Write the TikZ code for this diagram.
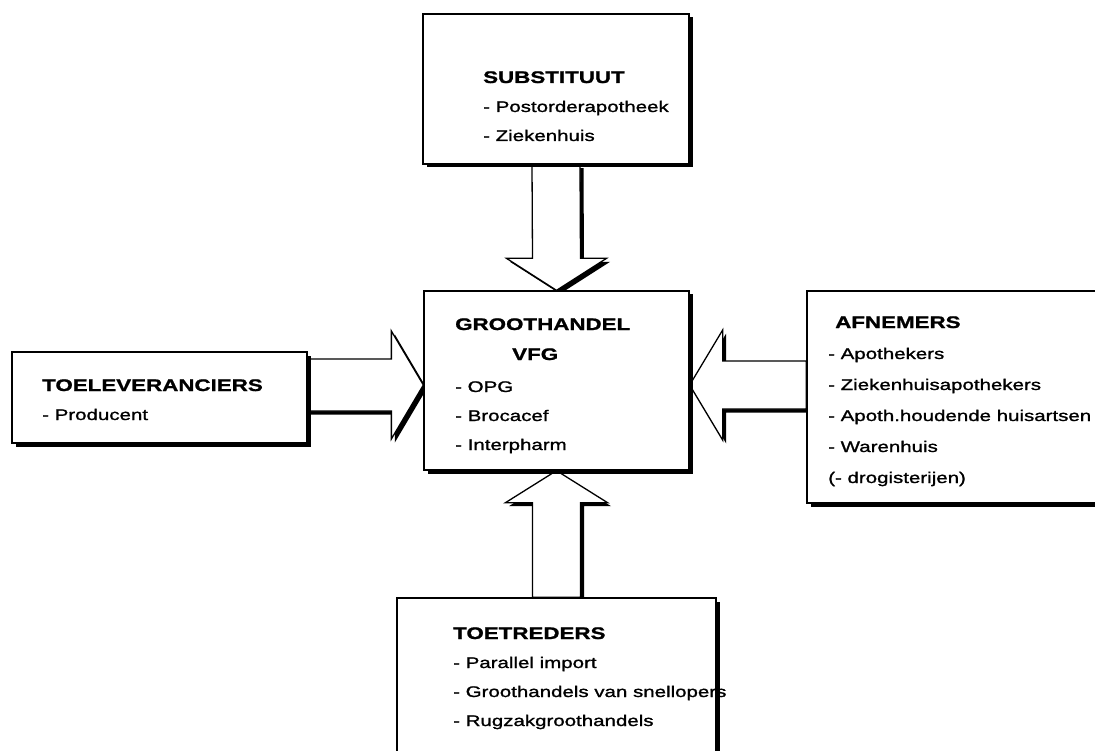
\documentclass[tikz,border=0pt]{standalone}
\usepackage{fontspec}
\setmainfont{Liberation Sans}[FakeStretch=1.33, UprightFeatures={FakeBold=1.3}, BoldFeatures={FakeBold=1.2}]
\usetikzlibrary{calc,shadows,backgrounds}

\newcommand{\headfont}{\bfseries\fontsize{16.8}{29}\selectfont}
\newcommand{\listfont}{\fontsize{15.4}{29}\selectfont}

\tikzset{
    hardshadow/.style={drop shadow={shadow xshift=3.5pt, shadow yshift=-3.5pt, fill=black, opacity=1}},
    panel/.style={rectangle, draw, line width=1.3pt, fill=white, inner sep=0pt, hardshadow},
    blockarrow/.style={draw, line width=1.3pt, fill=white, line join=miter, hardshadow},
    boxtext/.style={anchor=base west, align=left, inner sep=0pt, font=\listfont}
}

\begin{document}
\begin{tikzpicture}[x=1pt, y=-1pt]
        \useasboundingbox (0,0) rectangle (1095,751);
        \clip (0,0) rectangle (1095,751);

        % boxes
        \node[panel, minimum width=266pt, minimum height=150pt] at (556, 89)    (subst)  {};
        \node[panel, minimum width=265pt, minimum height=179pt] at (556.5, 380.5) (centre) {};
        \node[panel, minimum width=295pt, minimum height=91pt]  at (159.5, 397.5) (supp)   {};
        \node[panel, minimum width=308pt, minimum height=212pt] at (961, 397)   (cust)   {};
        \node[panel, minimum width=319pt, minimum height=182pt] at (556.5, 689) (entr)   {};

        \coordinate (tip-w) at ($(centre.west)+(0,4.5)$);
        \coordinate (tip-e) at ($(centre.east)+(0,4.5)$);

        % block arrows, behind the boxes
        \begin{scope}[on background layer]
            \draw[blockarrow] ($(subst.south)+(-24,0)$) -- ($(centre.north)+(-24,-32)$) -- ++(-26,0)
                -- (centre.north) -- ++(50,-32) -- ++(-26,0) -- ($(subst.south)+(24,0)$) -- cycle;
            \draw[blockarrow] ($(entr.north)+(-24,0)$) -- ($(centre.south)+(-24,32)$) -- ++(-27,0)
                -- (centre.south) -- ++(51,32) -- ++(-27,0) -- ($(entr.north)+(24,0)$) -- cycle;
            \draw[blockarrow] ($(supp.east |- tip-w)+(0,-26)$) -- ($(tip-w)+(-32,-26)$) -- ++(0,-28)
                -- (tip-w) -- ++(-32,54) -- ++(0,-28) -- ($(supp.east |- tip-w)+(0,26)$) -- cycle;
            \draw[blockarrow] ($(cust.west |- tip-e)+(0,-24)$) -- ($(tip-e)+(33,-24)$) -- ++(0,-31)
                -- (tip-e) -- ++(33,55) -- ++(0,-31) -- ($(cust.west |- tip-e)+(0,24)$) -- cycle;
        \end{scope}

        % texts (anchored at the baseline of their last line)
        \node[boxtext] at (483, 141) (subst-txt) {{\headfont SUBSTITUUT}\\- Postorderapotheek\\- Ziekenhuis};
        \node[boxtext] at (455, 450) (centre-txt) {{\headfont GROOTHANDEL}\\[1pt]{\headfont\hspace*{57pt}VFG}\\[3pt]- OPG\\- Brocacef\\- Interpharm};
        \node[boxtext] at (42, 420) (supp-txt) {{\headfont TOELEVERANCIERS}\\- Producent};
        \node[boxtext, font={\fontsize{15.4}{31}\selectfont}] at (828, 483) (cust-txt)
            {{\headfont\hspace*{7pt}AFNEMERS}\\- Apothekers\\- Ziekenhuisapothekers\\- Apoth.houdende huisartsen\\- Warenhuis\\(- drogisterijen)};
        \node[boxtext] at (453, 726) (entr-txt) {{\headfont TOETREDERS}\\- Parallel import\\- Groothandels van snellopers\\- Rugzakgroothandels};

    \end{tikzpicture}
\end{document}
